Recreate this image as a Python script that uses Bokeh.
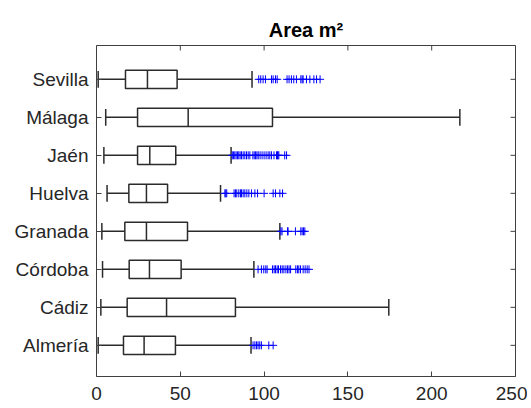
from bokeh.plotting import figure
from bokeh.models import ColumnDataSource, Range1d, FixedTicker
from bokeh.transform import dodge
from bokeh.embed import file_html
from bokeh.resources import INLINE

# ---- data ----
cats = ["Almería", "Cádiz", "Córdoba", "Granada", "Huelva", "Jaén", "Málaga", "Sevilla"]
pos = [1, 2, 3, 4, 5, 6, 7, 8]
lower = [1.0, 2.6, 3.6, 3.2, 6.3, 4.4, 5.5, 1.0]
q1 = [16.1, 18.3, 19.5, 16.9, 19.3, 24.5, 24.5, 17.3]
median = [28.4, 41.8, 31.6, 29.8, 29.8, 31.8, 54.7, 30.4]
q3 = [47.1, 82.9, 50.5, 54.3, 42.4, 47.3, 105.0, 48.1]
upper = [92.2, 174.4, 93.9, 109.4, 74.0, 80.3, 216.8, 92.8]

out_almeria = [93.4, 94.5, 95.5, 96.4, 97.4, 98.4, 102.8, 105.4]
out_cadiz = []
out_cordoba = [96.4, 98.4, 99.8, 101.0, 101.8, 105.0, 106.0, 106.8, 107.8, 108.6, 109.8,
               110.8, 111.8, 113.0, 114.0, 114.9, 115.8, 118.9, 119.9, 120.7, 121.7,
               123.3, 124.5, 125.7, 126.8]
out_granada = [110.0, 110.7, 114.0, 114.3, 118.7, 121.9, 122.7, 123.5, 124.3]
out_huelva = [76.6, 77.1, 77.7, 82.1, 82.9, 83.7, 84.9, 85.9, 86.5, 87.5, 88.5, 89.7,
              90.9, 92.5, 94.5, 96.1, 100.0, 105.4, 106.8, 109.4, 111.0]
out_jaen = [81.0, 81.7, 82.5, 83.3, 84.1, 84.9, 85.7, 86.5, 87.5, 88.5, 89.5, 90.5, 91.5,
            93.3, 94.1, 94.9, 95.7, 96.5, 97.6, 98.8, 100.0, 101.2, 102.4, 103.4, 104.4,
            105.9, 107.4, 108.0, 108.3, 108.8, 112.3, 113.4]
out_malaga = []
out_sevilla = [96.8, 98.0, 99.4, 100.8, 104.4, 105.4, 106.8, 107.8, 113.7, 114.9, 116.3,
               117.7, 119.3, 121.9, 122.7, 123.3, 125.3, 127.3, 129.7, 131.3, 133.4]
outliers = [out_almeria, out_cadiz, out_cordoba, out_granada, out_huelva, out_jaen,
            out_malaga, out_sevilla]
xticks = [0, 50, 100, 150, 200, 250]

FONT = "Liberation Sans"
TXT = "#262626"
BOX = "#2b2b2b"
AXC = "#404040"

src = ColumnDataSource(dict(pos=pos, lower=lower, q1=q1, median=median, q3=q3, upper=upper))
ox, oy = [], []
for p_, lst in zip(pos, outliers):
    for v in lst:
        ox.append(v)
        oy.append(p_)
osrc = ColumnDataSource(dict(x=ox, y=oy))

xr = Range1d(0, 250)
yr = Range1d(0.18, 8.89)
p = figure(frame_width=419, frame_height=331, x_range=xr, y_range=yr,
           output_backend="svg", toolbar_location=None,
           min_border_left=96, min_border_right=12, min_border_top=45, min_border_bottom=28,
           title="Area m²")
p.background_fill_color = "white"
p.border_fill_color = "white"
p.xgrid.visible = False
p.ygrid.visible = False
p.outline_line_color = AXC
p.outline_line_width = 1

p.title.text_font = FONT
p.title.text_font_size = "20px"
p.title.text_font_style = "bold"
p.title.text_color = "#000000"
p.title.align = "center"

# whiskers
p.segment(x0="lower", y0="pos", x1="q1", y1="pos", source=src, line_color=BOX, line_width=1.5)
p.segment(x0="q3", y0="pos", x1="upper", y1="pos", source=src, line_color=BOX, line_width=1.5)
# caps
for col in ("lower", "upper"):
    p.segment(x0=col, y0=dodge("pos", -0.22), x1=col, y1=dodge("pos", 0.22), source=src,
              line_color=BOX, line_width=1.5)
# boxes
p.hbar(y="pos", left="q1", right="q3", height=0.48, source=src,
       fill_color="white", line_color=BOX, line_width=1.5)
# medians
p.segment(x0="median", y0=dodge("pos", -0.24), x1="median", y1=dodge("pos", 0.24), source=src,
          line_color=BOX, line_width=1.5)
# outliers
p.scatter(x="x", y="y", source=osrc, marker="cross", size=8, line_color="#0000ff", line_width=1)

# tick marks on the top and right edges of the box (MATLAB-style box ticks)
p.scatter(x=xticks, y=[yr.end] * len(xticks), marker="dash", angle=1.5708, size=10,
          line_color=AXC, line_width=1)
p.scatter(x=[xr.end] * len(pos), y=pos, marker="dash", size=10, line_color=AXC, line_width=1)

# axes
xa = p.xaxis[0]
xa.ticker = FixedTicker(ticks=xticks)
ya = p.yaxis[0]
ya.ticker = FixedTicker(ticks=pos)
ya.major_label_overrides = {k: v for k, v in zip(pos, cats)}
for ax in (xa, ya):
    ax.axis_line_color = None
    ax.major_tick_in = 5
    ax.major_tick_out = 0
    ax.major_tick_line_color = AXC
    ax.minor_tick_line_color = None
    ax.major_label_text_font = FONT
    ax.major_label_text_font_size = "19px"
    ax.major_label_text_color = TXT
xa.major_label_standoff = 10
ya.major_label_standoff = 8

open("out.html", "w").write(file_html(p, INLINE))
